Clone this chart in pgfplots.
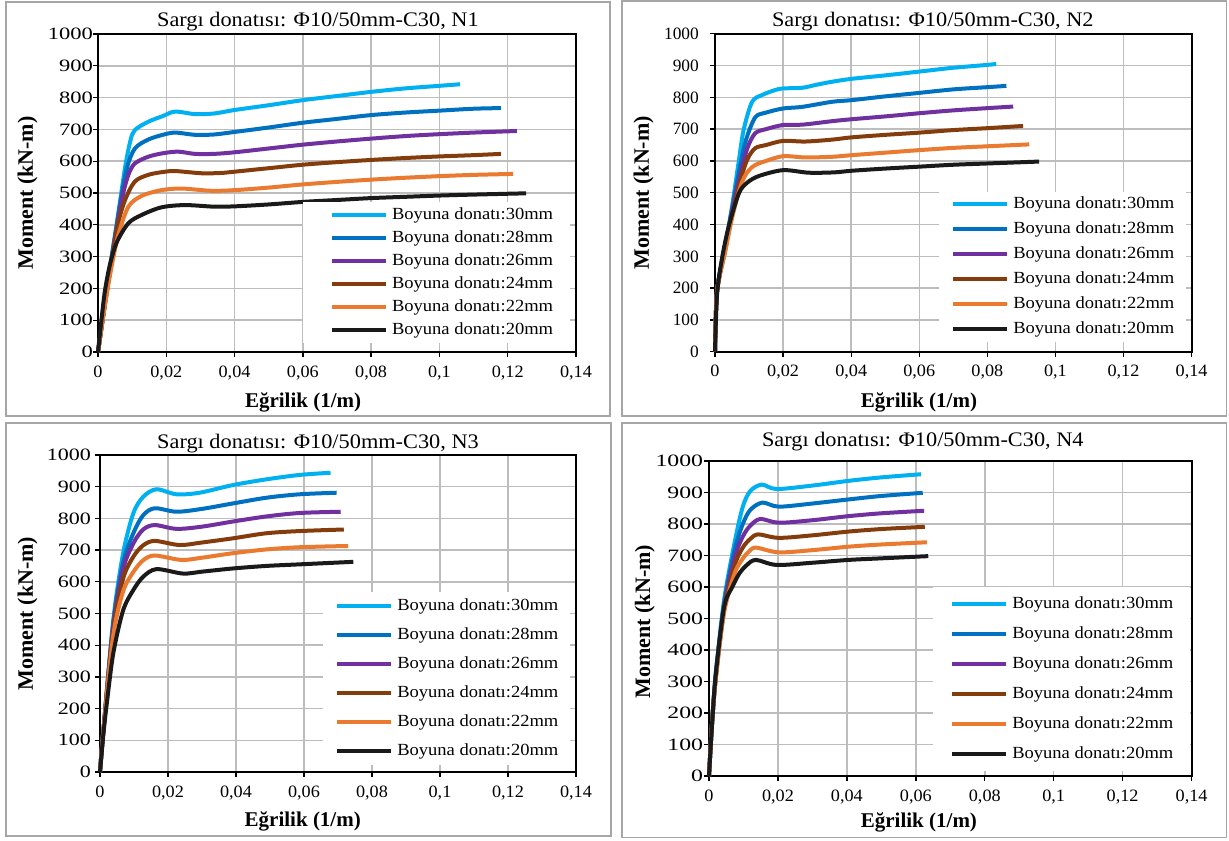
\documentclass[border=0pt]{standalone}
\usepackage{pgfplots}
\pgfplotsset{compat=1.18}
\usepackage{fontspec}
\setmainfont{Liberation Serif}
\newfontfamily\ttl[FakeStretch=1.08]{Liberation Serif}
\newfontfamily\leg[FakeStretch=1.09]{Liberation Serif}
\newfontfamily\xtk[FakeStretch=1.05]{Liberation Serif}
\newfontfamily\ytkA[FakeStretch=1.3]{Liberation Serif}
\newfontfamily\ytkB[FakeStretch=1.0]{Liberation Serif}
\newfontfamily\ytkC[FakeStretch=1.27]{Liberation Serif}
\newfontfamily\ytkD[FakeStretch=1.37]{Liberation Serif}
\definecolor{c30}{HTML}{00B0F0}
\definecolor{c28}{HTML}{0070C0}
\definecolor{c26}{HTML}{7030A0}
\definecolor{c24}{HTML}{843C0C}
\definecolor{c22}{HTML}{E97A30}
\definecolor{c20}{HTML}{1A1A1A}
\definecolor{gridc}{HTML}{BDBDBD}
\definecolor{framec}{HTML}{A6A6A6}
\def\legoff{0pt}
\pgfplotsset{
  panel/.style={
    scale only axis, anchor=south west, clip=false,
    xmin=0, xmax=0.14, ymin=0, ymax=1000,
    xtick={0,0.02,0.04,0.06,0.08,0.1,0.12,0.14},
    ytick={0,100,200,300,400,500,600,700,800,900,1000},
    scaled x ticks=false, scaled y ticks=false,
    xticklabel={\pgfmathprintnumber[fixed,use comma,assume math mode=true]{\tick}},
    yticklabel={\pgfmathprintnumber[fixed,1000 sep={},assume math mode=true]{\tick}},
    xticklabel style={font=\xtk\fontsize{13pt}{15pt}\selectfont, yshift=-3pt},
    grid=major,
    major grid style={draw=gridc, line width=1.1pt},
    axis line style={line width=1.6pt, black},
    tick style={line width=1pt, black},
    major tick length=3.75pt, tick align=outside, tick pos=left,
    every axis plot/.append style={line width=3pt, smooth, line join=round, no markers},
    every axis title/.style={at={(0.5,1)}, anchor=base, font=\ttl\fontsize{15.5pt}{19pt}\selectfont},
    every axis x label/.style={at={(0.5,-0.17)}, anchor=base, font=\bfseries\fontsize{15.75pt}{18pt}\selectfont},
    every axis y label/.style={at={(-0.13,0.5)}, anchor=base, rotate=90, font=\bfseries\fontsize{16.5pt}{19pt}\selectfont},
    xlabel={Eğrilik (1/m)}, ylabel={Moment (kN-m)},
    legend cell align=left,
    legend image code/.code={\path[draw=none,fill=none] (0pt,-1pt) rectangle (1pt,1pt); \draw[##1,line width=3pt] (\legoff,0pt) -- ++(40.5pt,0pt);},
    legend style={draw=none, fill=white, anchor=north west,
      font=\leg\fontsize{12.75pt}{15pt}\selectfont,
      nodes={inner sep=0pt, text height=9pt, text depth=3pt},
      /tikz/column 1/.style={column sep=3pt}},
  }
}
\begin{document}
\begin{tikzpicture}
\begin{scope}[x=0.75pt,y=0.75pt]
\useasboundingbox (0,0) rectangle (1229,840);
\draw[framec, line width=1.2pt] (6,424) rectangle (610,838);
\draw[framec, line width=1.2pt] (622,424) rectangle (1226.5,839);
\draw[framec, line width=1.2pt] (6,4) rectangle (611,417);
\draw[framec, line width=1.2pt] (622,2.5) rectangle (1226.5,417);
\end{scope}

% ---------------- N1 ----------------
\def\legoff{8.8pt}
\begin{axis}[panel, at={(73.5pt,366pt)}, width=358.5pt, height=238.5pt,
  title={Sargı donatısı: Φ10/50mm-C30, N1},
  title style={at={(0.46,1.023)}},
  xlabel style={at={(0.429,-0.173)}},
  ylabel style={at={(-0.136,0.5)}},
  yticklabel style={font=\ytkA\fontsize{13pt}{15pt}\selectfont, xshift=3.4pt},
  legend style={at={(0.4289,0.4717)}, row sep=5.25pt, inner ysep=3.75pt, inner xsep=12.75pt}]
\addplot[c30] coordinates {(0,0) (0.002,150) (0.004,295) (0.006,440) (0.008,585) (0.0095,665) (0.0108,698) (0.0147,724) (0.019,742) (0.0226,756) (0.0284,748) (0.034,750) (0.04,761) (0.05,776) (0.06,792) (0.07,805) (0.08,818) (0.09,829) (0.1,837) (0.106,842)};
\addplot[c28] coordinates {(0,0) (0.002,150) (0.004,300) (0.0055,400) (0.0067,480) (0.0085,580) (0.0108,640) (0.0147,668) (0.019,683) (0.0226,690) (0.0284,683) (0.034,684) (0.04,692) (0.05,706) (0.06,721) (0.07,733) (0.08,745) (0.09,753) (0.1,759) (0.11,765) (0.118,767)};
\addplot[c26] coordinates {(0,0) (0.002,150) (0.004,290) (0.0055,390) (0.0074,500) (0.009,560) (0.0108,593) (0.0147,614) (0.019,625) (0.0235,630) (0.0284,623) (0.034,623) (0.04,628) (0.05,640) (0.06,652) (0.07,662) (0.08,671) (0.09,679) (0.1,685) (0.11,690) (0.1227,695)};
\addplot[c24] coordinates {(0,0) (0.002,150) (0.004,285) (0.0059,405) (0.008,480) (0.0108,536) (0.0147,557) (0.019,566) (0.0226,569) (0.0304,562) (0.036,563) (0.04,567) (0.05,578) (0.06,589) (0.07,597) (0.08,604) (0.09,610) (0.1,615) (0.11,619) (0.118,623)};
\addplot[c22] coordinates {(0,0) (0.002,145) (0.004,270) (0.006,370) (0.0089,457) (0.0128,491) (0.0186,509) (0.0245,514) (0.033,507) (0.04,509) (0.05,517) (0.06,527) (0.07,535) (0.08,542) (0.09,548) (0.1,553) (0.11,557) (0.1216,560)};
\addplot[c20] coordinates {(0,0) (0.001,100) (0.002,190) (0.0035,275) (0.0055,345) (0.0089,405) (0.0128,431) (0.0186,455) (0.0255,462) (0.034,457) (0.04,458) (0.05,464) (0.06,472) (0.07,478) (0.08,484) (0.09,488) (0.1,492) (0.11,495) (0.1254,499)};
\legend{Boyuna donatı:30mm,Boyuna donatı:28mm,Boyuna donatı:26mm,Boyuna donatı:24mm,Boyuna donatı:22mm,Boyuna donatı:20mm}
\end{axis}

% ---------------- N2 ----------------
\def\legoff{0pt}
\begin{axis}[panel, at={(536.25pt,366.2pt)}, width=357.45pt, height=238.5pt,
  title={Sargı donatısı: Φ10/50mm-C30, N2},
  title style={at={(0.457,1.022)}},
  xlabel style={at={(0.428,-0.175)}},
  ylabel style={at={(-0.1385,0.5)}},
  yticklabel style={font=\ytkB\fontsize{13pt}{15pt}\selectfont, xshift=-4.9pt},
  legend style={at={(0.470,0.5031)}, row sep=6.75pt, inner ysep=3.2pt, inner xsep=9pt}]
\addplot[c30] coordinates {(0,0) (0.0006,190) (0.003,330) (0.005,456) (0.007,600) (0.0084,697) (0.0109,786) (0.014,808) (0.0177,823) (0.02,828) (0.0256,830) (0.03,840) (0.0344,849) (0.04,858) (0.05,869) (0.06,881) (0.07,893) (0.08,902) (0.0826,905)};
\addplot[c28] coordinates {(0,0) (0.0006,190) (0.003,330) (0.005,450) (0.0075,590) (0.0091,666) (0.0118,737) (0.015,752) (0.02,765) (0.0256,770) (0.0344,786) (0.04,791) (0.05,803) (0.06,814) (0.07,825) (0.08,832) (0.0856,836)};
\addplot[c26] coordinates {(0,0) (0.0006,190) (0.003,325) (0.005,440) (0.0075,560) (0.0095,640) (0.0118,687) (0.015,700) (0.02,713) (0.0256,714) (0.0344,725) (0.04,731) (0.05,740) (0.06,750) (0.07,759) (0.08,766) (0.0876,771)};
\addplot[c24] coordinates {(0,0) (0.0006,190) (0.003,320) (0.005,430) (0.0075,540) (0.0095,605) (0.0118,640) (0.015,650) (0.02,663) (0.0265,661) (0.0344,667) (0.04,674) (0.05,682) (0.06,689) (0.07,697) (0.08,703) (0.0905,710)};
\addplot[c22] coordinates {(0,0) (0.0006,190) (0.003,315) (0.005,420) (0.0075,520) (0.0095,565) (0.0118,587) (0.015,600) (0.02,615) (0.0265,611) (0.0344,613) (0.04,618) (0.05,626) (0.06,634) (0.07,641) (0.08,646) (0.0923,652)};
\addplot[c20] coordinates {(0,0) (0.0006,180) (0.002,290) (0.004,393) (0.007,498) (0.0095,532) (0.013,553) (0.02,571) (0.0275,563) (0.035,564) (0.04,569) (0.05,576) (0.06,582) (0.07,588) (0.08,592) (0.0952,598)};
\legend{Boyuna donatı:30mm,Boyuna donatı:28mm,Boyuna donatı:26mm,Boyuna donatı:24mm,Boyuna donatı:22mm,Boyuna donatı:20mm}
\end{axis}

% ---------------- N3 ----------------
\begin{axis}[panel, at={(75pt,51pt)}, width=357pt, height=237.75pt,
  title={Sargı donatısı: Φ10/50mm-C30, N3},
  title style={at={(0.458,1.021)}},
  xlabel style={at={(0.426,-0.1735)}},
  ylabel style={at={(-0.141,0.5)}},
  yticklabel style={font=\ytkC\fontsize{13pt}{15pt}\selectfont, xshift=0.4pt},
  legend style={at={(0.4685,0.5678)}, row sep=9.75pt, inner ysep=4.5pt, inner xsep=9pt}]
\addplot[c30] coordinates {(0,0) (0.001,130) (0.0039,479) (0.0068,690) (0.0098,816) (0.0127,868) (0.0166,892) (0.0225,876) (0.0293,881) (0.039,905) (0.0488,923) (0.0586,937) (0.0678,944)};
\addplot[c28] coordinates {(0,0) (0.001,130) (0.0039,470) (0.0068,660) (0.0098,753) (0.0127,810) (0.0161,832) (0.0225,821) (0.03,830) (0.039,847) (0.0488,865) (0.0586,876) (0.0696,881)};
\addplot[c26] coordinates {(0,0) (0.001,130) (0.0039,460) (0.0068,640) (0.0098,721) (0.0127,765) (0.0161,779) (0.0225,767) (0.03,774) (0.039,790) (0.0488,806) (0.0586,817) (0.0708,821)};
\addplot[c24] coordinates {(0,0) (0.001,130) (0.0039,450) (0.0068,610) (0.0098,679) (0.0127,715) (0.0161,729) (0.0234,716) (0.03,724) (0.039,737) (0.0488,753) (0.0586,760) (0.0717,765)};
\addplot[c22] coordinates {(0,0) (0.001,130) (0.0039,430) (0.0068,570) (0.0098,631) (0.0127,668) (0.0161,683) (0.0239,669) (0.03,676) (0.039,690) (0.0488,702) (0.0586,709) (0.073,713)};
\addplot[c20] coordinates {(0,0) (0.001,120) (0.002,216) (0.0039,374) (0.0068,510) (0.0098,574) (0.0127,616) (0.0166,640) (0.0244,626) (0.03,632) (0.039,642) (0.0488,650) (0.0586,655) (0.0745,663)};
\legend{Boyuna donatı:30mm,Boyuna donatı:28mm,Boyuna donatı:26mm,Boyuna donatı:24mm,Boyuna donatı:22mm,Boyuna donatı:20mm}
\end{axis}

% ---------------- N4 ----------------
\begin{axis}[panel, at={(531.75pt,48pt)}, width=361.95pt, height=236.25pt,
  title={Sargı donatısı: Φ10/50mm-C30, N4},
  title style={at={(0.443,1.045)}},
  xlabel style={at={(0.435,-0.162)}},
  ylabel style={at={(-0.122,0.49)}},
  yticklabel style={font=\ytkD\fontsize{13pt}{15pt}\selectfont, xshift=2.85pt},
  legend style={at={(0.4642,0.6)}, row sep=10.5pt, inner ysep=6.75pt, inner xsep=12.75pt}]
\addplot[c30] coordinates {(0,0) (0.0009,170) (0.002,330) (0.0044,560) (0.0075,745) (0.0098,855) (0.012,905) (0.0153,925) (0.0196,911) (0.03,922) (0.0405,937) (0.05,948) (0.0615,958)};
\addplot[c28] coordinates {(0,0) (0.0009,170) (0.002,325) (0.0044,550) (0.0075,720) (0.0098,800) (0.012,845) (0.0155,868) (0.0202,855) (0.03,865) (0.0405,878) (0.05,889) (0.062,899)};
\addplot[c26] coordinates {(0,0) (0.0009,170) (0.002,320) (0.0044,540) (0.0075,695) (0.0098,760) (0.012,795) (0.0149,816) (0.0202,804) (0.03,812) (0.0405,825) (0.05,834) (0.0624,842)};
\addplot[c24] coordinates {(0,0) (0.0009,170) (0.002,315) (0.0044,530) (0.0075,670) (0.0098,725) (0.012,753) (0.0143,767) (0.0202,756) (0.03,764) (0.0405,776) (0.05,784) (0.0626,791)};
\addplot[c22] coordinates {(0,0) (0.0009,170) (0.002,310) (0.0044,520) (0.0075,645) (0.0098,690) (0.0118,715) (0.0137,725) (0.0202,710) (0.03,717) (0.0405,728) (0.05,735) (0.0632,742)};
\addplot[c20] coordinates {(0,0) (0.0009,167) (0.002,326) (0.0044,537) (0.0068,601) (0.0088,643) (0.011,670) (0.0136,686) (0.0196,670) (0.03,677) (0.0405,686) (0.05,691) (0.0636,698)};
\legend{Boyuna donatı:30mm,Boyuna donatı:28mm,Boyuna donatı:26mm,Boyuna donatı:24mm,Boyuna donatı:22mm,Boyuna donatı:20mm}
\end{axis}
\end{tikzpicture}
\end{document}
